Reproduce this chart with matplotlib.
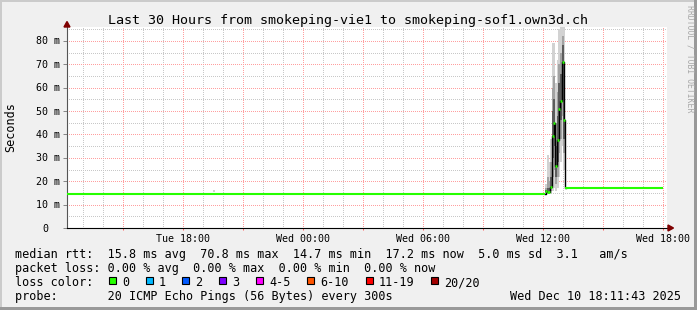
import matplotlib
matplotlib.use("Agg")
import matplotlib.pyplot as plt
from matplotlib import transforms
from matplotlib.patches import Rectangle, Polygon

# median rtt (ms), x in hours since Tue 00:00
base_t = [12.18, 36.09]
base_v = [14.7, 14.7]
spike_t = [36.13, 36.215, 36.295, 36.38, 36.465, 36.545, 36.63, 36.715,
           36.795, 36.88, 36.965, 37.045]
spike_v = [15.7, 15.5, 15.5, 17.6, 39.3, 45.0, 26.5, 37.6, 50.8, 54.4, 71.0, 46.2]
tail_t = [37.09, 41.98]
tail_v = [17.2, 17.2]

# smoke (spread of the 20 pings per step)
smoke_t = [19.53] + spike_t
smoke_min = [15.4, 14.5, 14.5, 14.6, 15.0, 16, 17, 16, 17, 22, 28, 35, 25]
smoke_max = [16.4, 19, 31, 28, 38, 79, 79, 62, 72, 85, 88, 88, 88]
smoke_lo = [15.4, 15, 15, 15, 16, 22, 25, 19, 22, 32, 38, 48, 32]
smoke_hi = [15.4, 17, 22, 20, 28, 60, 65, 45, 58, 70, 75, 82, 70]
smoke_q1 = [15.4, 15.3, 15.2, 15.2, 16.5, 30, 35, 22, 28, 42, 46, 58, 38]
smoke_q3 = [15.4, 16.2, 17, 17, 22, 50, 55, 35, 48, 62, 66, 78, 58]

x_major = [15, 18, 21, 24, 27, 30, 33, 36, 39, 42]
x_labels = ["", "Tue 18:00", "", "Wed 00:00", "", "Wed 06:00", "", "Wed 12:00", "", "Wed 18:00"]
x_minor = [h for h in range(13, 43) if h % 3]
y_major = [0, 10, 20, 30, 40, 50, 60, 70, 80]
y_labels = ["0", "10 m", "20 m", "30 m", "40 m", "50 m", "60 m", "70 m", "80 m"]
y_minor = [5, 15, 25, 35, 45, 55, 65, 75, 85]

title = "Last 30 Hours from smokeping-vie1 to smokeping-sof1.own3d.ch"
legend_lines = [
    "median rtt:  15.8 ms avg  70.8 ms max  14.7 ms min  17.2 ms now  5.0 ms sd  3.1   am/s",
    "packet loss: 0.00 % avg  0.00 % max  0.00 % min  0.00 % now",
    "loss color:",
    "probe:       20 ICMP Echo Pings (56 Bytes) every 300s",
]
loss_labels = ["0", "1", "2", "3", "4-5", "6-10", "11-19", "20/20"]
loss_colors = ["#26ff00", "#00b8ff", "#0059ff", "#7e00ff", "#ff00ff", "#ff5500", "#ff0000", "#a10000"]
loss_box_x = [109, 145.7, 182.3, 219, 255.7, 307.3, 365.5, 430.8]
stamp = "Wed Dec 10 18:11:43 2025"

W, H = 697, 310
STEP = 1 / 12


def fx(px):
    return px / W


def fy(py):
    return 1 - py / H


plt.rcParams["font.family"] = "DejaVu Sans Mono"
fig = plt.figure(figsize=(W / 100, H / 100), dpi=100, facecolor="#f0f0f0")
ax = fig.add_axes([fx(67), fy(228), 600 / W, 201 / H])
ax.set_facecolor("white")
ax.set_xlim(12.18, 42.18)
ax.set_ylim(0, 201 / 2.34)

# dotted grid: 1px on / 1px off
ax.set_xticks(x_major)
ax.set_xticklabels(x_labels, fontsize=7.2)
ax.set_xticks(x_minor, minor=True)
ax.set_yticks(y_major)
ax.set_yticklabels([])
ax.set_yticks(y_minor, minor=True)
ax.grid(which="minor", color="#c8c8c8", linestyle=(0.5, (1, 1)), linewidth=0.72)
ax.grid(which="major", color="#ff9f9f", linestyle=(0.5, (1, 1)), linewidth=0.72)
ax.set_axisbelow(True)
ax.tick_params(axis="x", which="major", length=1.5, width=0.72, color="#ff6060", pad=2.9)
ax.tick_params(axis="x", which="minor", length=0)
ax.tick_params(axis="y", which="major", length=3, width=0.72, color="#888888")
ax.tick_params(axis="y", which="minor", length=0)
for s in ("top", "right"):
    ax.spines[s].set_visible(False)
ax.spines["left"].set_color("#555555")
ax.spines["left"].set_linewidth(0.8)
ax.spines["bottom"].set_color("black")
ax.spines["bottom"].set_linewidth(0.8)

# y tick labels (rrdtool keeps "0" aligned with the number column)
ytr = ax.get_yaxis_transform()
for v, lab in zip(y_major, y_labels):
    dx = -7 if " m" in lab else -19
    tr = transforms.offset_copy(ytr, fig=fig, x=dx, y=-3.6, units="dots")
    ax.text(0, v, lab, transform=tr, ha="right", va="baseline", fontsize=7.2)

# smoke
for lo, hi, col in ((smoke_min, smoke_max, "#d2d2d2"),
                    (smoke_lo, smoke_hi, "#a2a2a2"),
                    (smoke_q1, smoke_q3, "#5c5c5c")):
    ax.bar(smoke_t, [h - l for l, h in zip(lo, hi)], bottom=lo, width=STEP,
           color=col, linewidth=0, zorder=2)

# median: black connectors, green level segments
conn_t = [base_t[-1]] + spike_t + [tail_t[0] + STEP / 2]
conn_v = [base_v[-1]] + spike_v + [tail_v[0]]
ax.step(conn_t, conn_v, where="mid", color="black", linewidth=1.0, zorder=3)
ax.plot(base_t, base_v, color="#26ff00", linewidth=1.5, solid_capstyle="butt", zorder=4)
ax.plot(tail_t, tail_v, color="#26ff00", linewidth=1.5, solid_capstyle="butt", zorder=4)
ax.hlines(spike_v, [t - STEP / 2 for t in spike_t], [t + STEP / 2 for t in spike_t],
          color="#26ff00", linewidth=1.8, zorder=4)

# axis arrows
arrow_col = "#7f0000"
fig.add_artist(Polygon([(fx(64), fy(27)), (fx(70), fy(27)), (fx(67), fy(21.5))],
                       closed=True, transform=fig.transFigure, color=arrow_col))
fig.add_artist(Polygon([(fx(668), fy(225)), (fx(668), fy(231)), (fx(673.5), fy(228))],
                       closed=True, transform=fig.transFigure, color=arrow_col))

# texts
fig.text(fx(347.5), fy(24), title, ha="center", va="baseline", fontsize=9.6)
fig.text(fx(10.5), fy(127.5), "Seconds", rotation=90, ha="center", va="center", fontsize=8.5)
fig.text(fx(690), fy(58.5), "RRDTOOL / TOBI OETIKER", rotation=270, ha="center",
         va="center", fontsize=5.9, color="#a8a8a8")
for i, line in enumerate(legend_lines):
    fig.text(fx(15.3), fy(258.3 + 14 * i), line, ha="left", va="baseline", fontsize=8.5)
fig.text(fx(680.5), fy(300), stamp, ha="right", va="baseline", fontsize=8.5)

for bx, lab, col in zip(loss_box_x, loss_labels, loss_colors):
    fig.add_artist(Rectangle((fx(bx), fy(283.5)), 7 / W, 7 / H, facecolor=col,
                             edgecolor="black", linewidth=0.8, transform=fig.transFigure))
    fig.text(fx(bx + 13.3), fy(286.2), lab, ha="left", va="baseline", fontsize=8.5)

# shaded frame
for (x0, y0, w, h, c) in ((0, 0, 697, 2, "#cbcbcb"), (0, 0, 2, 310, "#cbcbcb"),
                          (0, 307, 697, 3, "#999999"), (694, 0, 3, 310, "#999999")):
    fig.add_artist(Rectangle((fx(x0), fy(y0 + h)), w / W, h / H, facecolor=c,
                             edgecolor="none", transform=fig.transFigure))

fig.savefig("out.png", dpi=100, facecolor=fig.get_facecolor())
